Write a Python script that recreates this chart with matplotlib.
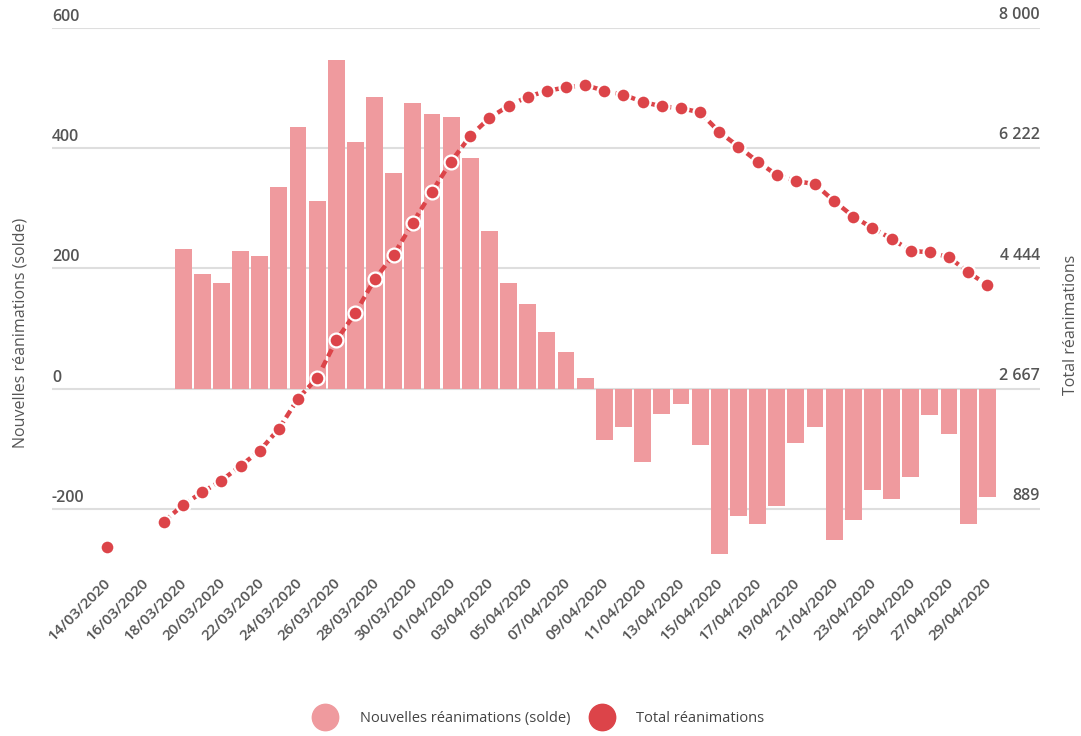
import numpy as np
import pandas as pd
import matplotlib
matplotlib.use("Agg")
import matplotlib.pyplot as plt
import matplotlib.transforms as mtransforms
from matplotlib.lines import Line2D

# Données : réanimations par jour
dates = pd.date_range("2020-03-14", "2020-04-29", freq="D")

nouvelles = [np.nan, np.nan, np.nan, np.nan,
             232, 191, 176, 229, 221, 336, 436, 312, 547, 411, 485, 358,
             476, 457, 452, 383, 263, 176, 141, 95, 61, 17,
             -85, -64, -122, -42, -26, -94, -275, -212, -225, -196, -90,
             -64, -252, -218, -168, -184, -147, -44, -75, -225, -181]

total = [326, np.nan, np.nan, 701, 948, 1136, 1308, 1526, 1748, 2074, 2519,
         2825, 3382, 3788, 4281, 4647, 5121, 5581, 6025, 6404, 6670,
         6849, 6983, 7071, 7121, 7156, 7071, 7012, 6908, 6840, 6815, 6751,
         6464, 6247, 6025, 5827, 5738, 5690, 5440, 5212, 5043, 4883,
         4707, 4681, 4612, 4388, 4202]

left_ticks = [-200, 0, 200, 400, 600]
right_ticks = [889, 2667, 4444, 6222, 8000]
right_labels = ["889", "2 667", "4 444", "6 222", "8 000"]

bar_color = "#ef9a9e"
line_color = "#dc4449"
grid_color = "#dedede"
text_color = "#555555"

plt.rcParams['font.family'] = ['Open Sans', 'DejaVu Sans']

fig = plt.figure(figsize=(10.81, 7.36), dpi=100)
ax = fig.add_axes([0.0481, 0.2269, 0.9139, 0.7351])
ax2 = ax.twinx()

x = np.arange(len(dates))

# Barres : nouvelles réanimations
ax.bar(x, nouvelles, width=0.88, color=bar_color, zorder=2)

# Ligne : total réanimations
ax2.plot(x, total, color=line_color, lw=3.2, ls=(0, (1.8, 1.0)),
         marker="o", markersize=10, markerfacecolor=line_color,
         markeredgecolor="white", markeredgewidth=1.6, zorder=3)

ax.set_xlim(-2.85, 48.75)
ax.set_ylim(-300, 600)
ax2.set_ylim(0, 8000)

ax.set_zorder(1)
ax2.set_zorder(2)
ax.patch.set_visible(False)

# Grille horizontale
for v in left_ticks:
    ax.axhline(v, color=grid_color, lw=1.5, zorder=1)

ax.set_yticks([])
ax2.set_yticks([])
for v in left_ticks:
    ax.text(0.0, v + 5, str(v), transform=ax.get_yaxis_transform(),
            ha="left", va="bottom", fontsize=11.5, color=text_color,
            fontweight="semibold")
for v, lab in zip(right_ticks, right_labels):
    ax2.text(1.0, v + 70, lab, transform=ax2.get_yaxis_transform(),
             ha="right", va="bottom", fontsize=11.5, color=text_color,
             fontweight="semibold")

for a in (ax, ax2):
    for s in a.spines.values():
        s.set_visible(False)

tick_pos = x[::2]
tick_labels = [d.strftime("%d/%m/%Y") for d in dates[::2]]
ax.set_xticks(tick_pos)
ax.set_xticklabels(tick_labels, rotation=45, ha="right", fontsize=11,
                   color=text_color, fontweight="semibold")
ax.tick_params(axis="x", length=0, pad=5)
shift = mtransforms.ScaledTranslation(7 / 100, 0, fig.dpi_scale_trans)
for lab in ax.get_xticklabels():
    lab.set_transform(lab.get_transform() + shift)

fig.text(0.019, 0.548, "Nouvelles réanimations (solde)", rotation=90,
         ha="center", va="center", fontsize=11.5, color=text_color)
fig.text(0.991, 0.558, "Total réanimations", rotation=90,
         ha="center", va="center", fontsize=11.5, color=text_color)

handles = [
    Line2D([], [], ls="none", marker="o", markersize=19,
           markerfacecolor=bar_color, markeredgecolor=bar_color),
    Line2D([], [], ls="none", marker="o", markersize=19,
           markerfacecolor=line_color, markeredgecolor=line_color),
]
fig.legend(handles, ["Nouvelles réanimations (solde)", "Total réanimations"],
           loc="center", bbox_to_anchor=(0.5, 0.024), ncol=2, frameon=False,
           fontsize=10.5, labelcolor="#444444", handlelength=1.2,
           handletextpad=1.75, columnspacing=1.6)

fig.savefig("out.png", dpi=100)
